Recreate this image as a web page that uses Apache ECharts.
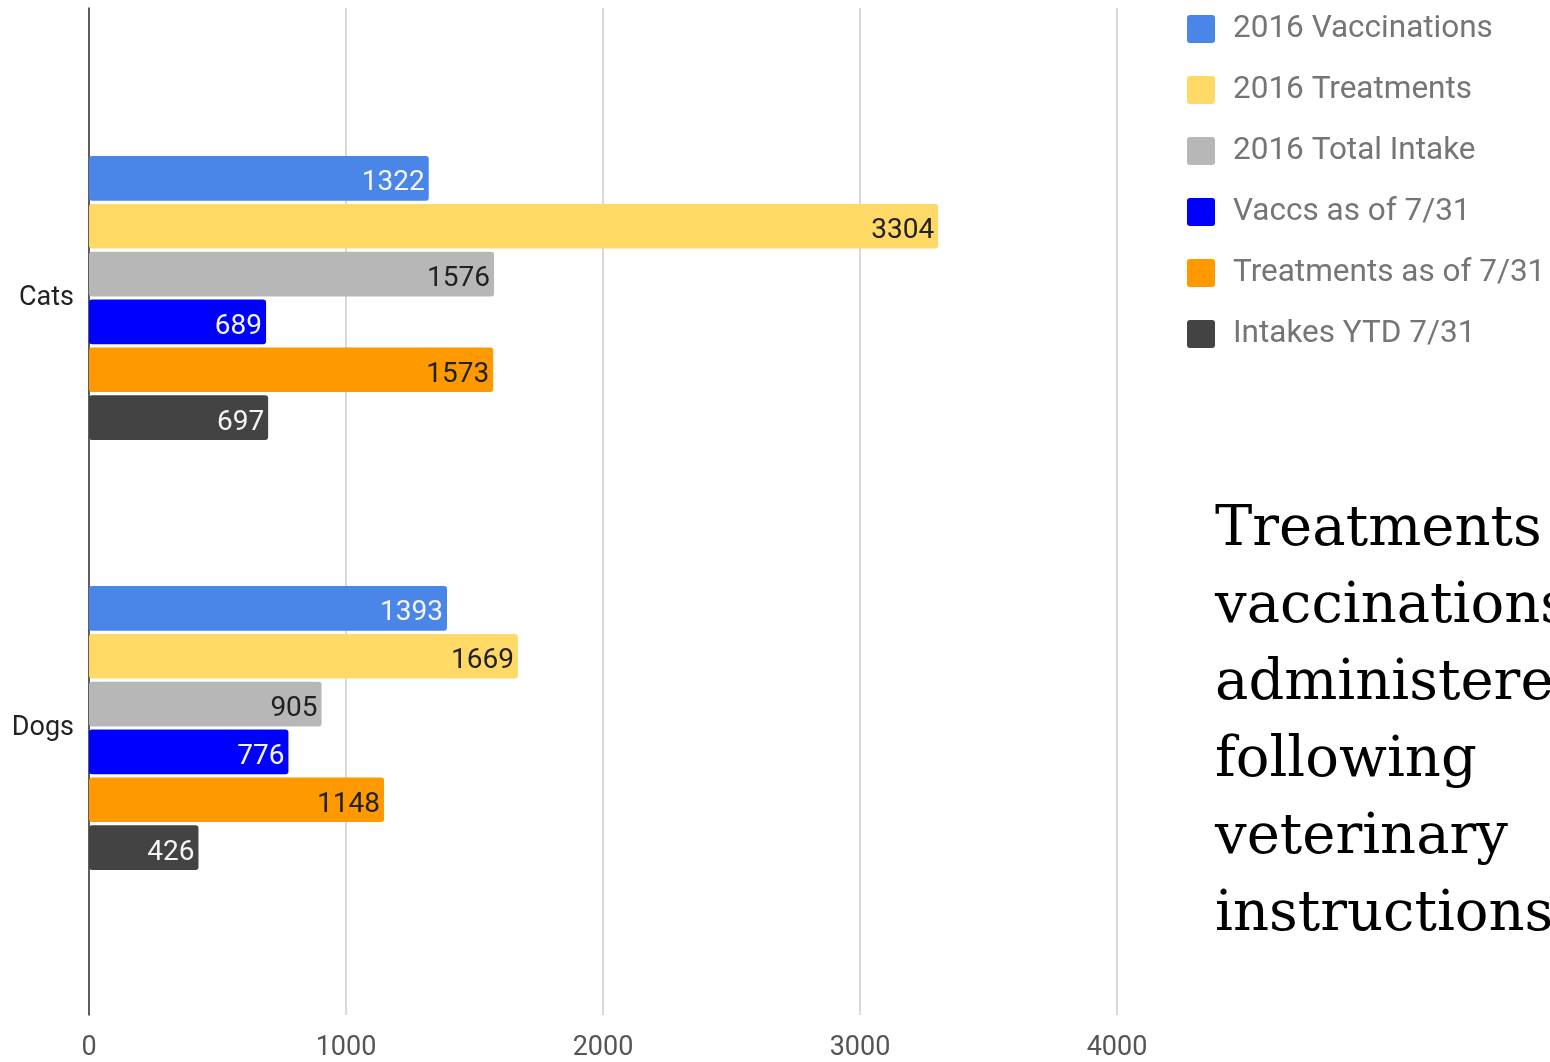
<!DOCTYPE html>
<html>
<head>
<meta charset="utf-8">
<script src="https://cdn.jsdelivr.net/npm/echarts@6/dist/echarts.min.js"></script>
<style>html,body{margin:0;padding:0;background:#fff;}#chart{width:1550px;height:1062px;}</style>
</head>
<body>
<div id="chart"></div>
<script>
const categories = ['Cats', 'Dogs'];
const seriesNames = ['2016 Vaccinations', '2016 Treatments', '2016 Total Intake', 'Vaccs as of 7/31', 'Treatments as of 7/31', 'Intakes YTD 7/31'];
const vaccinations2016 = [1322, 1393];
const treatments2016 = [3304, 1669];
const totalIntake2016 = [1576, 905];
const vaccsAsOf731 = [689, 776];
const treatmentsAsOf731 = [1573, 1148];
const intakesYTD731 = [697, 426];
const xTicks = [0, 1000, 2000, 3000, 4000];
const noteLines = ['Treatments', 'vaccinations', 'administered', 'following', 'veterinary', 'instructions'];

const colors = ['#4a86e8', '#ffd966', '#b7b7b7', '#0000ff', '#ff9900', '#434343'];
const labelColors = ['#f5f5f5', '#212121', '#212121', '#f5f5f5', '#212121', '#f5f5f5'];
const values = [vaccinations2016, treatments2016, totalIntake2016, vaccsAsOf731, treatmentsAsOf731, intakesYTD731];

const chart = echarts.init(document.getElementById('chart'));
const font = 'Roboto';
const legendIcon = 'path://M3,0 H25 Q28,0 28,3 V25 Q28,28 25,28 H3 Q0,28 0,25 V3 Q0,0 3,0 Z';

const series = values.map((v, i) => ({
  name: seriesNames[i],
  type: 'bar',
  xAxisIndex: 1,
  yAxisIndex: 1,
  data: v,
  barCategoryGap: '34%',
  barGap: '7%',
  itemStyle: { color: colors[i], borderRadius: 3 },
  label: {
    show: true,
    position: 'insideRight',
    distance: 4,
    offset: [0, 5],
    color: labelColors[i],
    fontFamily: font,
    fontSize: 28
  }
}));

chart.setOption({
  animation: false,
  backgroundColor: '#ffffff',
  grid: [
    { left: 89, right: 433, top: 8, bottom: 45 },
    { left: 89, right: 433, top: 83, bottom: 119 }
  ],
  xAxis: [
    {
      gridIndex: 0, type: 'value', min: xTicks[0], max: xTicks[xTicks.length - 1], interval: 1000,
      axisLine: { show: false }, axisTick: { show: false },
      splitLine: { show: true, lineStyle: { color: '#cccccc', width: 1.5 } },
      axisLabel: { color: '#555555', fontFamily: font, fontSize: 27, margin: 20, formatter: v => String(v) }
    },
    {
      gridIndex: 1, type: 'value', min: xTicks[0], max: xTicks[xTicks.length - 1],
      show: false, splitLine: { show: false }
    }
  ],
  yAxis: [
    {
      gridIndex: 0, type: 'category', data: categories,
      axisLabel: { show: false }, axisTick: { show: false },
      axisLine: { show: true, lineStyle: { color: '#333333', width: 1.5 } },
      splitLine: { show: false }
    },
    {
      gridIndex: 1, type: 'category', data: categories, inverse: true,
      axisLine: { show: false }, axisTick: { show: false },
      axisLabel: { color: '#222222', fontFamily: font, fontSize: 27, margin: 15, padding: [8, 0, 0, 0] }
    }
  ],
  legend: {
    orient: 'vertical',
    left: 1187,
    top: 13,
    padding: 0,
    itemWidth: 28,
    itemHeight: 28,
    itemGap: 29,
    icon: legendIcon,
    data: seriesNames,
    textStyle: { color: '#757575', fontFamily: font, fontSize: 31.5, lineHeight: 28, padding: [0, 0, 0, 13] }
  },
  graphic: [{
    type: 'text',
    left: 1215,
    top: 492,
    style: {
      text: noteLines.join('\n'),
      fontFamily: '"DejaVu Serif", serif',
      fontSize: 56,
      lineHeight: 77,
      fill: '#000000'
    }
  }],
  series: series
});
</script>
</body>
</html>
